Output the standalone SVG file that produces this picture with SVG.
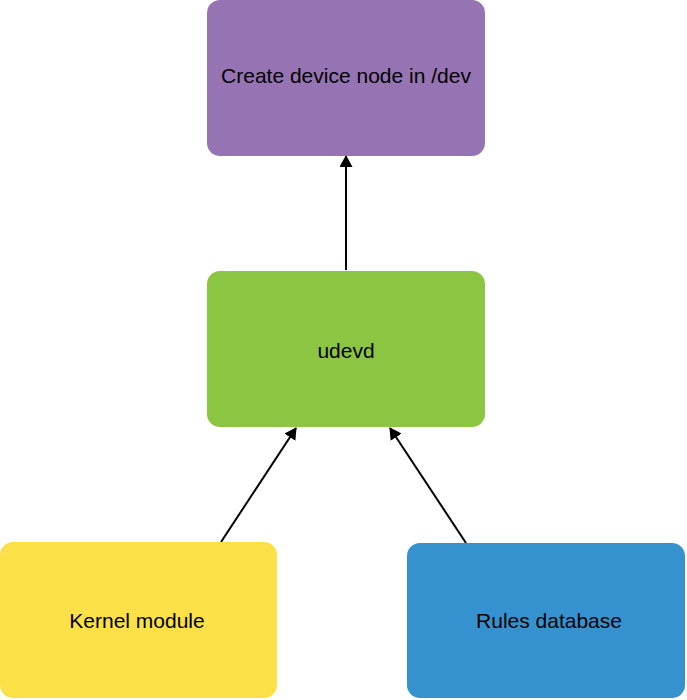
<svg xmlns="http://www.w3.org/2000/svg" width="687" height="700" viewBox="0 0 687 700">
<style>
.lbl{font-family:"Liberation Sans",Arial,sans-serif;font-size:21px;fill:#000;text-anchor:middle}
.edge{stroke:#000;stroke-width:2;fill:none}
</style>
<defs>
<marker id="ah" viewBox="0 0 12 13" refX="11" refY="6.5" markerWidth="12" markerHeight="13" markerUnits="userSpaceOnUse" orient="auto">
<path d="M0,0 L12,6.5 L0,13 Z" fill="#000"/>
</marker>
</defs>
<rect width="687" height="700" fill="#fff"/>
<g id="connectors">
<line class="edge" x1="346" y1="270" x2="346" y2="156" marker-end="url(#ah)"/>
<line class="edge" x1="221" y1="542" x2="296" y2="428" marker-end="url(#ah)"/>
<line class="edge" x1="466" y1="543" x2="390" y2="428" marker-end="url(#ah)"/>
</g>
<g id="node-create">
<rect x="207" y="0" width="278" height="156" rx="13" fill="#9673B2"/>
<text class="lbl" x="346" y="83">Create device node in /dev</text>
</g>
<g id="node-udevd">
<rect x="207" y="271" width="278" height="156" rx="13" fill="#8CC542"/>
<text class="lbl" x="346" y="358">udevd</text>
</g>
<g id="node-kernel">
<rect x="0" y="542" width="277" height="156" rx="13" fill="#FCE048"/>
<text class="lbl" x="137" y="628">Kernel module</text>
</g>
<g id="node-rules">
<rect x="407" y="543" width="278" height="155" rx="13" fill="#3592CF"/>
<text class="lbl" x="549" y="628">Rules database</text>
</g>
</svg>
